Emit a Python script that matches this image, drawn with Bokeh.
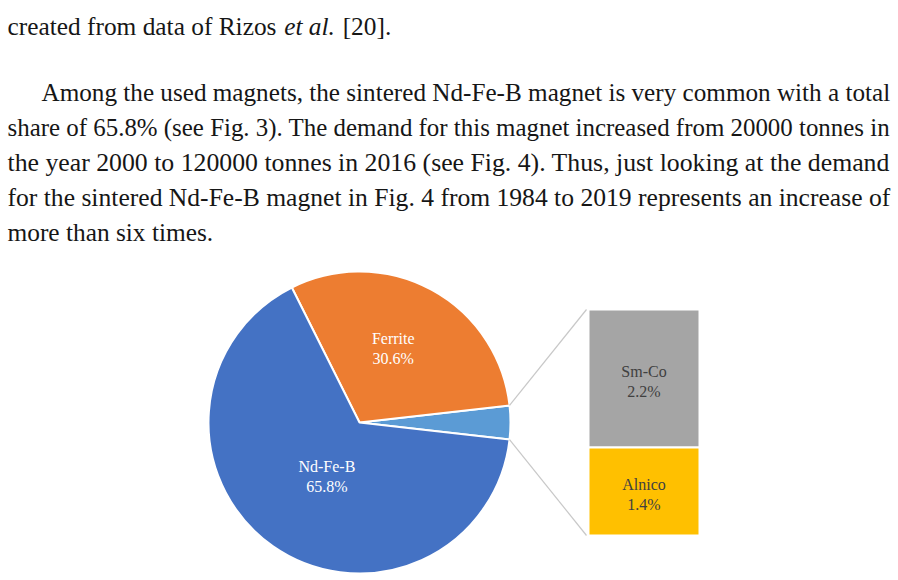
import math
from bokeh.plotting import figure
from bokeh.models import ColumnDataSource, Range1d
from bokeh.core.properties import value
from bokeh.embed import file_html
from bokeh.resources import INLINE

# ---------------- data ----------------
magnets = ["Nd-Fe-B", "Ferrite", "Sm-Co", "Alnico"]
shares = [65.8, 30.6, 2.2, 1.4]
colors = ["#4472C4", "#ED7D31", "#A5A5A5", "#FFC000"]
other_color = "#5B9BD5"

para_lines = [
    "Among the used magnets, the sintered Nd-Fe-B magnet is very common with a total",
    "share of 65.8% (see Fig. 3). The demand for this magnet increased from 20000 tonnes in",
    "the year 2000 to 120000 tonnes in 2016 (see Fig. 4). Thus, just looking at the demand",
    "for the sintered Nd-Fe-B magnet in Fig. 4 from 1984 to 2019 represents an increase of",
]
last_line = "more than six times."
first_parts = ["created from data of Rizos", "et al.", "[20]."]

# ---------------- page ----------------
W, H = 898, 580
SERIF = value("Liberation Serif")
p = figure(width=W, height=H, output_backend="svg", toolbar_location=None,
           x_range=Range1d(0, W), y_range=Range1d(0, H), min_border=0,
           x_axis_location=None, y_axis_location=None,
           background_fill_color="white", border_fill_color="white",
           outline_line_color=None)
p.grid.visible = False


def Y(sy):
    return H - sy


TW = {' ': 250, 'a': 444, 'b': 500, 'c': 444, 'd': 500, 'e': 444, 'f': 333, 'g': 500,
      'h': 500, 'i': 278, 'j': 278, 'k': 500, 'l': 278, 'm': 778, 'n': 500, 'o': 500,
      'p': 500, 'q': 500, 'r': 333, 's': 389, 't': 278, 'u': 500, 'v': 500, 'w': 722,
      'x': 500, 'y': 500, 'z': 444, 'A': 722, 'B': 667, 'F': 556, 'N': 722, 'T': 611,
      'R': 667, 'M': 889, '.': 250, ',': 250, '-': 333, '(': 333, ')': 333, '%': 833,
      '[': 333, ']': 333}


def em_width(s):
    return sum(TW.get(c, 500) for c in s) / 1000.0


TXT = "#161616"
# justified paragraph lines
left_x = [41, 7, 7, 7]
base_y = [91.5, 126.5, 161.5, 196.5]
right_x = 890
sizes = []
for t, lx, by in zip(para_lines, left_x, base_y):
    fs = (right_x - lx) / em_width(t)
    sizes.append(fs)
    p.text(x=[lx], y=[Y(by)], text=[t], text_font=SERIF, text_font_size=f"{fs:.2f}px",
           text_color=TXT, text_align="left", text_baseline="alphabetic")
fs_avg = sum(sizes) / len(sizes)
p.text(x=[7], y=[Y(231.5)], text=[last_line], text_font=SERIF,
       text_font_size=f"{fs_avg:.2f}px", text_color=TXT,
       text_align="left", text_baseline="alphabetic")
# closing line of the previous paragraph
xx = 7
for i, part in enumerate(first_parts):
    p.text(x=[xx], y=[Y(25)], text=[part], text_font=SERIF,
           text_font_size=f"{fs_avg:.2f}px", text_color=TXT,
           text_align="left", text_baseline="alphabetic",
           text_font_style="italic" if i == 1 else "normal")
    xx += (em_width(part) * (1.03 if i == 1 else 1.0) + 0.3) * fs_avg

# ---------------- pie ----------------
cx, cy, R = 359, Y(422), 151
other = shares[2] + shares[3]
o_half = other * 3.6 / 2
f_end = o_half + shares[1] * 3.6
starts = [-o_half, o_half, f_end]
ends = [o_half, f_end, 360 - o_half]
pie_src = ColumnDataSource(dict(start=[math.radians(a) for a in starts],
                                end=[math.radians(a) for a in ends],
                                color=[other_color, colors[1], colors[0]]))
p.wedge(x=cx, y=cy, radius=R, start_angle="start", end_angle="end",
        fill_color="color", line_color="white", line_width=2, source=pie_src)

# pie labels
for idx, rf in zip([1, 0], [0.54, 0.42]):
    a0, a1 = (starts[1], ends[1]) if idx == 1 else (starts[2], ends[2])
    mid = math.radians((a0 + a1) / 2 + 4)
    lx = cx + rf * R * math.cos(mid)
    ly = cy + rf * R * math.sin(mid)
    p.text(x=[lx, lx], y=[ly + 10, ly - 10],
           text=[magnets[idx], f"{shares[idx]:.1f}%"], text_font=SERIF,
           text_font_size="16px", text_color="white", text_align="center",
           text_baseline="middle")

# ---------------- bar of pie ----------------
bl, br = 588, 699
btop, bbot = Y(309), Y(535)
bh = btop - bbot
sm_bottom = btop - bh * shares[2] / other
bar_src = ColumnDataSource(dict(left=[bl, bl], right=[br, br],
                                top=[btop, sm_bottom], bottom=[sm_bottom, bbot],
                                color=[colors[2], colors[3]]))
p.quad(left="left", right="right", top="top", bottom="bottom", fill_color="color",
       line_color="white", line_width=2, source=bar_src)

for name, v, t, b in zip(magnets[2:], shares[2:], [btop, sm_bottom], [sm_bottom, bbot]):
    m = (t + b) / 2 - 3
    p.text(x=[(bl + br) / 2] * 2, y=[m + 10, m - 10],
           text=[name, f"{v:.1f}%"], text_font=SERIF, text_font_size="16px",
           text_color="#404040", text_align="center", text_baseline="middle")

# connector lines
ax0 = cx + R * math.cos(math.radians(o_half))
ay0 = cy + R * math.sin(math.radians(o_half))
ax1 = cx + R * math.cos(math.radians(-o_half))
ay1 = cy + R * math.sin(math.radians(-o_half))
p.segment(x0=[ax0, ax1], y0=[ay0, ay1], x1=[bl - 2, bl - 2], y1=[btop, bbot],
          line_color="#C8C8C8", line_width=1.2)

open("out.html", "w").write(file_html(p, INLINE))
